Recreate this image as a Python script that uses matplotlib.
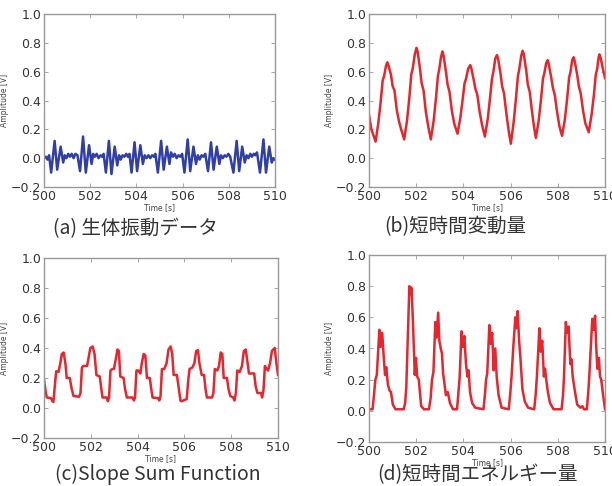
import numpy as np
import matplotlib
matplotlib.use('Agg')
import matplotlib.pyplot as plt

plt.rcParams['font.family'] = ['DejaVu Sans', 'Noto Sans CJK JP']

# (a) body vibration signal (time, amplitude)
t_a = [500.00, 500.08, 500.15, 500.22, 500.31, 500.46, 500.57, 500.72, 500.83, 500.90,
       500.97, 501.05, 501.12, 501.20, 501.28, 501.36, 501.45, 501.56, 501.69, 501.81,
       501.95, 502.06, 502.13, 502.20, 502.28, 502.36, 502.45, 502.52, 502.58, 502.68,
       502.81, 502.92, 503.06, 503.17, 503.25, 503.32, 503.40, 503.48, 503.56, 503.63,
       503.70, 503.79, 503.92, 504.03, 504.17, 504.28, 504.36, 504.44, 504.52, 504.60,
       504.68, 504.76, 504.82, 504.93, 505.07, 505.18, 505.32, 505.43, 505.50, 505.58,
       505.66, 505.74, 505.82, 505.90, 505.98, 506.08, 506.22, 506.33, 506.47, 506.58,
       506.66, 506.74, 506.82, 506.90, 506.98, 507.10, 507.23, 507.34, 507.48, 507.59,
       507.66, 507.74, 507.82, 507.90, 507.98, 508.06, 508.20, 508.34, 508.45, 508.58,
       508.69, 508.77, 508.85, 508.93, 509.00, 509.08, 509.14, 509.22, 509.35, 509.50,
       509.61, 509.75, 509.86, 509.93, 510.00]
v_a = [0.00, 0.01, -0.01, 0.02, -0.10, 0.12, -0.08, 0.08, -0.03, 0.02,
       0.00, 0.03, 0.01, 0.03, 0.00, 0.03, 0.02, -0.09, 0.15, -0.10,
       0.09, -0.04, 0.03, 0.01, 0.03, 0.00, 0.02, 0.01, 0.03, -0.10,
       0.12, -0.11, 0.08, -0.05, 0.02, -0.01, 0.02, 0.01, 0.03, 0.01,
       0.03, -0.10, 0.11, -0.09, 0.09, -0.04, 0.02, 0.00, 0.02, 0.00,
       0.02, 0.01, 0.03, -0.10, 0.12, -0.08, 0.08, -0.04, 0.04, 0.01,
       0.03, 0.00, 0.02, 0.01, 0.03, -0.10, 0.13, -0.09, 0.08, -0.04,
       0.02, -0.01, 0.02, 0.01, 0.03, -0.09, 0.11, -0.08, 0.08, -0.04,
       0.02, 0.00, 0.02, 0.01, 0.03, 0.01, -0.10, 0.12, -0.09, 0.08,
       -0.03, 0.02, 0.00, 0.03, 0.01, 0.03, 0.02, 0.04, -0.10, 0.13,
       -0.10, 0.08, -0.03, 0.00, -0.01]

# (b) short-time variation
t_b = [500.00, 500.10, 500.28, 500.40, 500.50, 500.58, 500.64, 500.72, 500.78, 500.83,
       500.93, 501.00, 501.08, 501.18, 501.28, 501.36, 501.49,
       501.61, 501.71, 501.79, 501.85, 501.94, 502.01, 502.06, 502.16, 502.23, 502.31,
       502.41, 502.51, 502.62,
       502.74, 502.84, 502.92, 502.98, 503.05, 503.11, 503.16, 503.26, 503.33, 503.41,
       503.51, 503.61, 503.75,
       503.87, 503.97, 504.05, 504.11, 504.20, 504.29, 504.34, 504.44, 504.51, 504.59,
       504.69, 504.79, 504.91,
       505.03, 505.13, 505.21, 505.27, 505.35, 505.42, 505.47, 505.57, 505.64, 505.72,
       505.82, 505.91, 506.01,
       506.13, 506.23, 506.31, 506.37, 506.45, 506.51, 506.56, 506.66, 506.73, 506.81,
       506.91, 506.99, 507.07,
       507.19, 507.29, 507.37, 507.43, 507.51, 507.57, 507.62, 507.72, 507.79, 507.87,
       507.97, 508.07, 508.18,
       508.30, 508.40, 508.48, 508.54, 508.61, 508.67, 508.72, 508.82, 508.89, 508.97,
       509.07, 509.17, 509.31,
       509.43, 509.53, 509.61, 509.67, 509.72, 509.76, 509.81, 509.91, 510.00]
v_b = [0.30, 0.20, 0.115, 0.25, 0.40, 0.54, 0.57, 0.64, 0.665, 0.64,
       0.58, 0.50, 0.47, 0.33, 0.25, 0.20, 0.13,
       0.26, 0.42, 0.58, 0.62, 0.72, 0.765, 0.74, 0.62, 0.52, 0.47,
       0.32, 0.22, 0.13,
       0.26, 0.42, 0.57, 0.62, 0.70, 0.74, 0.71, 0.60, 0.51, 0.46,
       0.33, 0.24, 0.17,
       0.28, 0.41, 0.52, 0.55, 0.62, 0.645, 0.62, 0.54, 0.48, 0.44,
       0.32, 0.23, 0.15,
       0.27, 0.42, 0.55, 0.60, 0.69, 0.715, 0.69, 0.59, 0.50, 0.45,
       0.31, 0.20, 0.10,
       0.25, 0.42, 0.57, 0.62, 0.71, 0.745, 0.72, 0.61, 0.51, 0.46,
       0.32, 0.22, 0.14,
       0.26, 0.41, 0.55, 0.59, 0.66, 0.68, 0.65, 0.56, 0.49, 0.44,
       0.32, 0.22, 0.155,
       0.27, 0.42, 0.56, 0.60, 0.68, 0.70, 0.67, 0.58, 0.50, 0.45,
       0.33, 0.24, 0.18,
       0.30, 0.44, 0.58, 0.62, 0.69, 0.72, 0.70, 0.62, 0.555]

# (c) slope sum function
t_c = [500.00, 500.08, 500.12, 500.30, 500.36, 500.40, 500.47, 500.52, 500.62, 500.70,
       500.76, 500.84, 500.92, 500.97, 501.10, 501.18, 501.26, 501.50, 501.56,
       501.62, 501.68, 501.84, 501.90, 501.98, 502.08, 502.16, 502.24, 502.38, 502.44,
       502.50, 502.68, 502.73, 502.78, 502.84, 502.92, 502.99, 503.06, 503.14, 503.20,
       503.26, 503.40, 503.46, 503.54, 503.78, 503.84, 503.89, 503.95, 504.03, 504.12,
       504.18, 504.26, 504.33, 504.40, 504.52, 504.58, 504.64, 504.88, 504.93, 504.98,
       505.04, 505.14, 505.24, 505.32, 505.41, 505.48, 505.54, 505.68, 505.76, 505.83,
       505.88, 506.10, 506.16, 506.22, 506.34, 506.43, 506.50, 506.58, 506.64, 506.74,
       506.84, 506.90, 506.96, 507.18, 507.24, 507.30, 507.40, 507.48, 507.55, 507.62,
       507.68, 507.82, 507.88, 507.96, 508.08, 508.14, 508.20, 508.26, 508.36, 508.46,
       508.54, 508.62, 508.70, 508.76, 508.98, 509.05, 509.12, 509.28, 509.32, 509.38,
       509.44, 509.52, 509.58, 509.66, 509.74, 509.80, 509.86, 509.93, 510.00]
v_c = [0.19, 0.10, 0.07, 0.065, 0.045, 0.04, 0.16, 0.245, 0.24, 0.30,
       0.36, 0.37, 0.29, 0.20, 0.20, 0.13, 0.08, 0.075, 0.10,
       0.27, 0.28, 0.28, 0.33, 0.40, 0.41, 0.36, 0.22, 0.21, 0.14,
       0.07, 0.07, 0.045, 0.07, 0.25, 0.26, 0.26, 0.32, 0.39, 0.38,
       0.21, 0.20, 0.13, 0.07, 0.07, 0.05, 0.07, 0.25, 0.25, 0.23,
       0.30, 0.36, 0.35, 0.20, 0.20, 0.13, 0.07, 0.065, 0.05, 0.08,
       0.26, 0.26, 0.30, 0.39, 0.41, 0.36, 0.22, 0.22, 0.13, 0.05,
       0.045, 0.06, 0.18, 0.26, 0.27, 0.30, 0.38, 0.385, 0.30, 0.22,
       0.22, 0.13, 0.07, 0.07, 0.10, 0.26, 0.25, 0.28, 0.37, 0.36,
       0.20, 0.20, 0.13, 0.08, 0.07, 0.05, 0.10, 0.25, 0.24, 0.28,
       0.38, 0.39, 0.30, 0.23, 0.23, 0.14, 0.10, 0.10, 0.07, 0.12,
       0.28, 0.26, 0.25, 0.30, 0.38, 0.39, 0.40, 0.30, 0.22]

# (d) short-time energy
t_d = [500.00, 500.15, 500.21, 500.27, 500.33, 500.44, 500.49, 500.56, 500.63, 500.68,
       500.73, 500.80, 500.87, 500.93, 501.01, 501.12, 501.47, 501.53, 501.58, 501.66,
       501.71, 501.75, 501.80, 501.86, 501.94, 501.99, 502.04, 502.11, 502.21, 502.33,
       502.54, 502.61, 502.67, 502.73, 502.81, 502.86, 502.93, 502.98, 503.04, 503.09,
       503.14, 503.26, 503.34, 503.43, 503.56, 503.73, 503.79, 503.84, 503.92, 503.97,
       504.04, 504.11, 504.17, 504.22, 504.28, 504.37, 504.50, 504.85, 504.91, 504.96,
       505.01, 505.10, 505.15, 505.22, 505.28, 505.35, 505.41, 505.49, 505.62, 505.92,
       505.98, 506.04, 506.11, 506.20, 506.25, 506.30, 506.36, 506.42, 506.50, 506.60,
       506.74, 507.00, 507.06, 507.11, 507.22, 507.27, 507.34, 507.41, 507.46, 507.51,
       507.58, 507.67, 507.82, 508.16, 508.22, 508.26, 508.34, 508.40, 508.46, 508.53,
       508.58, 508.63, 508.72, 508.82, 508.96, 509.04, 509.11, 509.23, 509.29, 509.33,
       509.46, 509.52, 509.58, 509.63, 509.68, 509.74, 509.79, 509.84, 509.92, 510.00]
v_d = [0.01, 0.01, 0.10, 0.20, 0.23, 0.52, 0.41, 0.50, 0.33, 0.23,
       0.28, 0.17, 0.13, 0.12, 0.04, 0.01, 0.01, 0.05, 0.15, 0.55,
       0.80, 0.75, 0.79, 0.58, 0.23, 0.34, 0.22, 0.20, 0.03, 0.01,
       0.01, 0.08, 0.20, 0.25, 0.57, 0.47, 0.63, 0.45, 0.40, 0.37,
       0.24, 0.10, 0.12, 0.05, 0.01, 0.01, 0.12, 0.21, 0.51, 0.41,
       0.48, 0.30, 0.22, 0.26, 0.12, 0.05, 0.02, 0.01, 0.10, 0.20,
       0.24, 0.55, 0.43, 0.50, 0.26, 0.40, 0.22, 0.10, 0.02, 0.01,
       0.10, 0.22, 0.40, 0.60, 0.53, 0.64, 0.45, 0.33, 0.14, 0.06,
       0.02, 0.01, 0.10, 0.21, 0.53, 0.38, 0.45, 0.22, 0.27, 0.20,
       0.12, 0.05, 0.01, 0.01, 0.10, 0.21, 0.57, 0.50, 0.54, 0.30,
       0.33, 0.22, 0.13, 0.04, 0.02, 0.03, 0.01, 0.01, 0.12, 0.21,
       0.59, 0.52, 0.61, 0.40, 0.27, 0.34, 0.22, 0.20, 0.10, 0.01]

panels = [
    # left, bottom, width, height, t, v, color, caption, caption x, caption y
    (44, 187, 231, 173, t_a, v_a, '#2f3fa6', '(a) 生体振動データ', 135, 229),
    (369, 187, 236, 173, t_b, v_b, '#e8242c', '(b)短時間変動量', 455, 227),
    (44, 438, 234, 180, t_c, v_c, '#e8242c', '(c)Slope Sum Function', 158, 474),
    (369, 442, 236, 187, t_d, v_d, '#e8242c', '(d)短時間エネルギー量', 478, 475),
]

W, H = 612, 486
fig = plt.figure(figsize=(W / 100, H / 100), dpi=100)
fig.patch.set_facecolor('white')

for left, bottom, w, h, t, v, color, caption, cx, cy in panels:
    ax = fig.add_axes([left / W, 1 - bottom / H, w / W, h / H])
    ax.plot(t, v, color=color, linewidth=1.8)
    ax.set_xlim(500, 510)
    ax.set_ylim(-0.2, 1.0)
    ax.set_xticks(np.arange(500, 511, 2))
    ax.set_yticks(np.arange(-0.2, 1.01, 0.2))
    ax.set_yticklabels(['\u22120.2', '0.0', '0.2', '0.4', '0.6', '0.8', '1.0'])
    ax.tick_params(direction='in', length=3, width=0.6, colors='#999999',
                   labelcolor='#333333', labelsize=9, pad=2,
                   top=True, right=True)
    for s in ax.spines.values():
        s.set_color('#999999')
        s.set_linewidth(1.0)
    ax.set_xlabel('Time [s]', fontsize=5.5, color='#444444', labelpad=0)
    ax.set_ylabel('Amplitude [V]', fontsize=5.5, color='#444444', labelpad=1)
    fig.text(cx / W, 1 - cy / H, caption, fontsize=14, color='#333333',
             ha='center', va='center',
             family=['Noto Sans CJK JP', 'DejaVu Sans'])

fig.savefig('out.png', dpi=100)
